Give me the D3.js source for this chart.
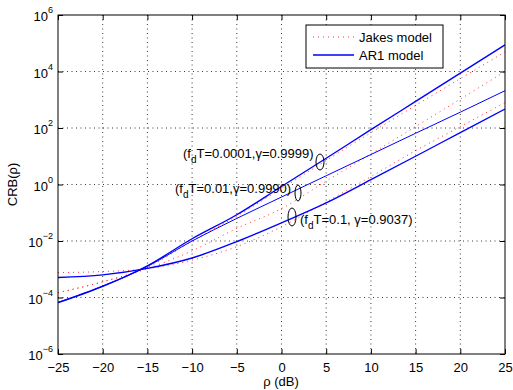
<!DOCTYPE html>
<html><head><meta charset="utf-8">
<script src="https://cdn.jsdelivr.net/npm/d3@7"></script>
<style>body{margin:0;background:#fff}svg{display:block}text{font-family:"Liberation Sans",Arial,sans-serif}</style>
</head><body>
<svg id="c" width="513" height="390"></svg>
<script>
const snr = [-25,-20,-15,-10,-5,0,5,10,15,20,25];
const ar1_0001 = [6.6e-5,2.5e-4,1.32e-3,1.2e-2,8.5e-2,0.85,8.5,87,870,8700,8.7e4];
const ar1_01   = [6.6e-5,2.5e-4,1.26e-3,1.0e-2,6.3e-2,0.36,2.04,11.5,65,363,2090];
const ar1_1    = [5.1e-4,6.3e-4,1.07e-3,2.5e-3,9.5e-3,4.4e-2,0.224,1.48,10,69,468];
const jakes_0001 = [1.48e-4,3.6e-4,1.17e-3,1.0e-2,7.6e-2,0.72,7.1,68,630,5600,4.9e4];
const jakes_01   = [1.48e-4,3.6e-4,1.05e-3,4.5e-3,2.8e-2,0.14,1.32,12,112,1050,1.0e4];
const jakes_1    = [7.6e-4,8.3e-4,1.05e-3,2.1e-3,6.3e-3,3.2e-2,0.24,1.9,15.8,112,794];
const xTicks = [-25,-20,-15,-10,-5,0,5,10,15,20,25];
const yTickExp = [-6,-4,-2,0,2,4,6];
const legendLabels = ["Jakes model","AR1 model"];
const annotations = [
  {sub:"d", pre:"(f", post:"T=0.0001,\u03b3=0.9999)"},
  {sub:"d", pre:"(f", post:"T=0.01,\u03b3=0.9990)"},
  {sub:"d", pre:"(f", post:"T=0.1, \u03b3=0.9037)"}
];

const svg = d3.select("#c");
const L=58,T=15,R=505,B=354;
const FS=13;
const x = d3.scaleLinear().domain([-25,25]).range([L,R]);
const y = d3.scaleLog().domain([1e-6,1e6]).range([B,T]);

// grid
const g = svg.append("g");
xTicks.slice(1,-1).forEach(t=>g.append("line").attr("x1",x(t)).attr("x2",x(t)).attr("y1",T).attr("y2",B)
  .attr("stroke","#222").attr("stroke-width",0.9).attr("stroke-dasharray","1,3.5"));
yTickExp.slice(1,-1).forEach(e=>g.append("line").attr("x1",L).attr("x2",R).attr("y1",y(Math.pow(10,e))).attr("y2",y(Math.pow(10,e)))
  .attr("stroke","#222").attr("stroke-width",0.9).attr("stroke-dasharray","1,3.5"));

// curves
const line = d3.line().x((d,i)=>x(snr[i])).y(d=>y(d)).curve(d3.curveMonotoneX);
svg.append("clipPath").attr("id","cp").append("rect").attr("x",L).attr("y",T).attr("width",R-L).attr("height",B-T);
const cg = svg.append("g").attr("clip-path","url(#cp)");
[jakes_0001,jakes_01,jakes_1].forEach(s=>cg.append("path").attr("d",line(s)).attr("fill","none")
  .attr("stroke","#ff3030").attr("stroke-width",1).attr("stroke-dasharray","1,4"));
[[ar1_0001,1.4],[ar1_01,1.0],[ar1_1,1.4]].forEach(([s,w])=>cg.append("path").attr("d",line(s)).attr("fill","none")
  .attr("stroke","#0000ff").attr("stroke-width",w));

// axes box
svg.append("rect").attr("x",L).attr("y",T).attr("width",R-L).attr("height",B-T).attr("fill","none").attr("stroke","#000").attr("stroke-width",1);
const xb = d3.axisBottom(x).tickValues(xTicks).tickSize(-5).tickPadding(9).tickFormat(d=>d<0?"\u2212"+(-d):d);
const xa = svg.append("g").attr("transform",`translate(0,${B})`).call(xb);
xa.select(".domain").remove();
xa.selectAll("text").attr("font-size",FS).attr("font-family","Liberation Sans, Arial, sans-serif").attr("fill","#000");
const xt = d3.axisTop(x).tickValues(xTicks).tickSize(-5).tickFormat("");
svg.append("g").attr("transform",`translate(0,${T})`).call(xt).select(".domain").remove();
const yl = d3.axisLeft(y).tickValues(yTickExp.map(e=>Math.pow(10,e))).tickSize(-5).tickFormat("");
svg.append("g").attr("transform",`translate(${L},0)`).call(yl).select(".domain").remove();
const yr = d3.axisRight(y).tickValues(yTickExp.map(e=>Math.pow(10,e))).tickSize(-5).tickFormat("");
svg.append("g").attr("transform",`translate(${R},0)`).call(yr).select(".domain").remove();
svg.selectAll(".tick line").attr("stroke","#000");

// y tick labels
yTickExp.forEach(e=>{
  const t = svg.append("text").attr("x",L-5).attr("y",y(Math.pow(10,e))+6).attr("text-anchor","end").attr("font-size",FS);
  t.append("tspan").text("10");
  t.append("tspan").attr("dy",-8).attr("font-size",9).text(e<0?"\u2212"+(-e):e);
});

// axis labels
svg.append("text").attr("x",281).attr("y",386).attr("text-anchor","middle").attr("font-size",FS).text("\u03c1 (dB)");
svg.append("text").attr("transform",`translate(17,${(T+B)/2}) rotate(-90)`).attr("text-anchor","middle").attr("font-size",FS).text("CRB(\u03c1)");

// legend
const lg = svg.append("g");
lg.append("rect").attr("x",306).attr("y",25).attr("width",137).attr("height",43).attr("fill","#fff").attr("stroke","#000").attr("stroke-width",1);
lg.append("line").attr("x1",313).attr("x2",354).attr("y1",37).attr("y2",37).attr("stroke","#ff3030").attr("stroke-dasharray","1,4");
lg.append("line").attr("x1",313).attr("x2",354).attr("y1",55).attr("y2",55).attr("stroke","#0000ff").attr("stroke-width",1.4);
lg.append("text").attr("x",359).attr("y",42).attr("font-size",FS).text(legendLabels[0]);
lg.append("text").attr("x",359).attr("y",60).attr("font-size",FS).text(legendLabels[1]);

// annotations
const annPos = [{tx:183,ty:158,ex:320,ey:162,rx:4,ry:8},{tx:175,ty:193,ex:298,ey:193,rx:3,ry:8},{tx:300,ty:224,ex:292,ey:217,rx:4,ry:9}];
annotations.forEach((a,i)=>{
  const p = annPos[i];
  const t = svg.append("text").attr("x",p.tx).attr("y",p.ty).attr("font-size",FS);
  t.append("tspan").text(a.pre);
  t.append("tspan").attr("dy",5).attr("font-size",10).text(a.sub);
  t.append("tspan").attr("dy",-5).text(a.post);
  svg.append("ellipse").attr("cx",p.ex).attr("cy",p.ey).attr("rx",p.rx).attr("ry",p.ry).attr("fill","none").attr("stroke","#000").attr("stroke-width",1);
});
</script>
</body></html>
